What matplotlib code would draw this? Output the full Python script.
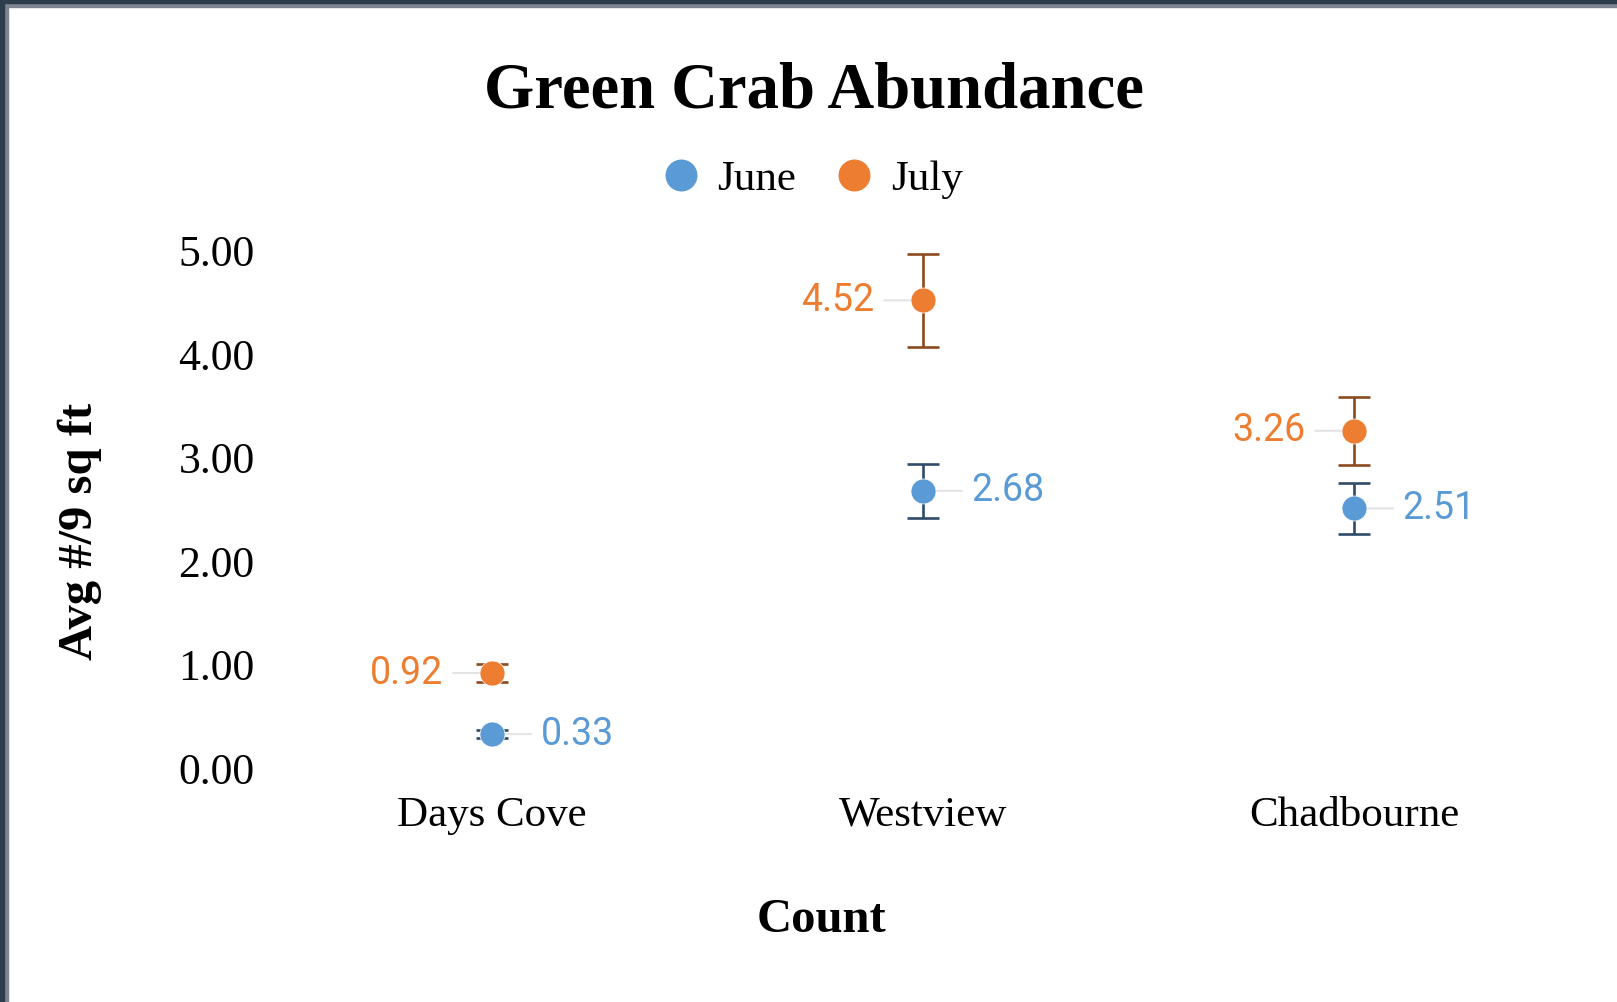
import matplotlib
matplotlib.use("Agg")
import matplotlib.pyplot as plt
from matplotlib.lines import Line2D
from matplotlib.patches import Rectangle

# datos del grafico
sites = ["Days Cove", "Westview", "Chadbourne"]
june = [0.33, 2.68, 2.51]
june_err = [0.04, 0.26, 0.25]
july = [0.92, 4.52, 3.26]
july_err = [0.09, 0.45, 0.33]
yticks = [0, 1, 2, 3, 4, 5]

blue = "#5b9bd5"
orange = "#ed7d31"
blue_dark = "#2f4b68"
orange_dark = "#8c4a1f"

W, H = 1617, 1002
fig = plt.figure(figsize=(W / 100, H / 100), dpi=100)

# area del grafico (en pixeles)
left, right = 270, 1570
y0, y5 = 768.3, 250.6
ax = fig.add_axes([left / W, 1 - y0 / H, (right - left) / W, (y0 - y5) / H])
ax.set_xlim((left - 492) / 431, (right - 492) / 431)
ax.set_ylim(0, 5)

x = list(range(len(sites)))

# barras de error y puntos
ax.errorbar(x, july, yerr=july_err, fmt="none", ecolor=orange_dark,
            elinewidth=1.9, capsize=11.5, capthick=1.9, zorder=3, clip_on=False)
ax.errorbar(x, june, yerr=june_err, fmt="none", ecolor=blue_dark,
            elinewidth=1.9, capsize=11.5, capthick=1.9, zorder=3, clip_on=False)
ax.plot(x, july, "o", color=orange, ms=18, mec="white", mew=0.5, ls="", zorder=5, clip_on=False)
ax.plot(x, june, "o", color=blue, ms=18, mec="white", mew=0.5, ls="", zorder=5, clip_on=False)

# etiquetas de valores
for i in x:
    ax.annotate(f"{july[i]:.2f}", xy=(i, july[i]), xytext=(-35, 0),
                textcoords="offset points", ha="right", va="center",
                fontsize=27, family="Roboto", color=orange, zorder=2,
                arrowprops=dict(arrowstyle="-", color="#e3e3e3", lw=1.5,
                                shrinkA=5, shrinkB=0))
    ax.annotate(f"{june[i]:.2f}", xy=(i, june[i]), xytext=(35, 0),
                textcoords="offset points", ha="left", va="center",
                fontsize=27, family="Roboto", color=blue, zorder=2,
                arrowprops=dict(arrowstyle="-", color="#e3e3e3", lw=1.5,
                                shrinkA=5, shrinkB=0))

# ejes
ax.set_xticks(x)
ax.set_xticklabels(sites, family="Liberation Serif", fontsize=31)
ax.set_yticks(yticks)
ax.set_yticklabels([f"{t:.2f}" for t in yticks], family="Liberation Serif", fontsize=31.5)
ax.tick_params(axis="y", length=0, pad=11)
ax.tick_params(axis="x", length=0, pad=20)
for s in ax.spines.values():
    s.set_visible(False)

fig.text(814 / W, 1 - 91 / H, "Green Crab Abundance", ha="center", va="center",
         family="Liberation Serif", fontweight="bold", fontsize=46.5)
fig.text(821 / W, 1 - 920 / H, "Count", ha="center", va="center",
         family="Liberation Serif", fontweight="bold", fontsize=35)
fig.text(80 / W, 1 - 531 / H, "Avg #/9 sq ft", ha="center", va="center", rotation=90,
         family="Liberation Serif", fontweight="bold", fontsize=35)

# leyenda
handles = [Line2D([], [], marker="o", ls="", color=blue, ms=22),
           Line2D([], [], marker="o", ls="", color=orange, ms=22)]
fig.legend(handles, ["June", "July"], loc="center", ncol=2, frameon=False,
           bbox_to_anchor=(811 / W, 1 - 179 / H), handletextpad=0.35,
           columnspacing=0.85, handlelength=1.0,
           prop={"family": "Liberation Serif", "size": 31})

# borde de la captura
fig.patches.append(Rectangle((0, 1 - 7 / H), 1, 7 / H, transform=fig.transFigure,
                             color="#7c8590", zorder=10))
fig.patches.append(Rectangle((0, 1 - 3 / H), 1, 3 / H, transform=fig.transFigure,
                             color="#2e3d4b", zorder=11))
fig.patches.append(Rectangle((0, 0), 8 / W, 1, transform=fig.transFigure,
                             color="#7c8590", zorder=10))
fig.patches.append(Rectangle((0, 0), 4 / W, 1, transform=fig.transFigure,
                             color="#2e3d4b", zorder=11))

fig.savefig("out.png", dpi=100)
